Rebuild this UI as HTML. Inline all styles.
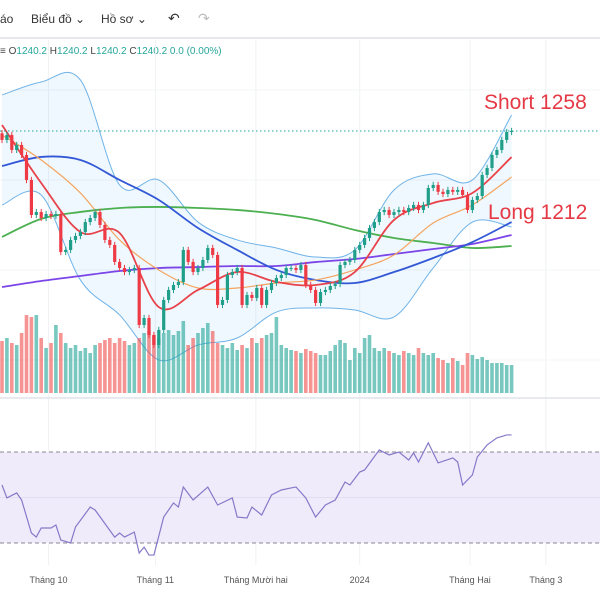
<!DOCTYPE html>
<html><head><meta charset="utf-8">
<style>
html,body{margin:0;padding:0;background:#fff;}
#wrap{position:relative;width:600px;height:600px;overflow:hidden;font-family:"Liberation Sans",sans-serif;}
.tb{position:absolute;top:12px;font-size:12px;color:#333;}
</style></head>
<body>
<div id="wrap">
<div class="tb" style="left:0">áo</div>
<div class="tb" style="left:31px">Biểu đồ ⌄</div>
<div class="tb" style="left:101px">Hồ sơ ⌄</div>
<div class="tb" style="left:168px;font-size:14px;top:10px">↶</div>
<div class="tb" style="left:198px;font-size:14px;top:10px;color:#bbb">↷</div>
<div style="position:absolute;left:0;top:37px;width:600px;height:2px;background:#e6e8ee"></div>
<div style="position:absolute;left:0;top:46px;font-size:10px;color:#26a69a;white-space:nowrap"><span style="color:#444">≡ O</span>1240.2 <span style="color:#444">H</span>1240.2 <span style="color:#444">L</span>1240.2 <span style="color:#444">C</span>1240.2 0.0 (0.00%)</div>
<svg id="svg" width="600" height="600" style="position:absolute;left:0;top:0"></svg>
</div>
<script>
const closes=[1231.6,1236.4,1222,1226.8,1217.2,1193.2,1159.6,1162.4,1156.7,1160.5,1158.6,1160.5,1124,1126,1135.6,1139.4,1143.2,1152.8,1156.7,1162.4,1150,1135.6,1130.8,1114.5,1108.7,1104.8,1106.8,1108.7,1054,1060.7,1044.4,1034.8,1049.2,1078,1087.6,1092.4,1095.2,1126,1114.5,1104.8,1108.7,1116.4,1127.9,1121.2,1073.2,1078,1102,1104.8,1108.7,1073.2,1082.8,1079.9,1089.5,1073.2,1087.6,1094.3,1099.1,1102,1108.7,1108.7,1106.8,1111.6,1092.4,1087.6,1075.1,1085.6,1087.6,1091.4,1093.3,1111.6,1114.5,1116.4,1126,1130.8,1137.5,1147.1,1152.8,1162.4,1164.4,1159.6,1162.4,1164.4,1162.4,1166.3,1169.2,1164.4,1169.2,1185.5,1188.4,1181.8,1179.7,1183.6,1181.8,1183.6,1178.8,1164.4,1174,1177.8,1198,1204.7,1217.2,1222,1231.6,1239.2,1240.2];
const firstOpen=1238;
const volumes=[52,55,50,48,60,78,76,78,55,45,50,68,60,50,45,48,42,45,40,48,50,53,55,50,55,52,48,50,55,60,62,58,55,60,63,58,62,72,48,55,60,65,70,62,50,48,45,50,43,48,45,55,50,55,58,60,76,48,45,43,42,40,44,42,40,38,38,42,48,53,50,33,45,40,55,58,45,42,45,42,40,38,42,40,38,45,40,38,40,35,33,30,35,32,28,40,38,34,36,33,30,30,30,28,28];
const sampleIdx=[0,8,16,24,32,40,48,56,64,72,80,88,96,104];
const sma10=[1246,1190.3,1143.2,1142.3,1071.2,1087.6,1104.8,1095.3,1092.4,1104.8,1154.8,1171.1,1180.7,1215.2];
const sma20=[1236.4,1212.4,1180.7,1135.6,1106.8,1089.5,1089.5,1094.3,1097.2,1106.8,1121.2,1151.9,1169.2,1196.0];
const sma50=[1206.6,1215.3,1212.4,1193.2,1174,1147.1,1126,1106.8,1097.2,1094.3,1104.8,1118.3,1133.6,1152.8];
const sma100=[1090.4,1096.2,1101,1105.8,1108.7,1109.6,1110.6,1110.6,1114.4,1117.3,1122.1,1126.9,1131.7,1140.4];
const sma200=[1138.5,1155.8,1162.5,1166.3,1167.3,1166.3,1164.4,1160.6,1154.8,1145.2,1137.5,1132.7,1127.9,1129.8];
const bbUpper=[1274.8,1287.2,1289.2,1188.4,1193.2,1152.8,1135.6,1127.9,1119.2,1126,1183.6,1199,1193.2,1255.6];
const bbLower=[1169.2,1178.8,1097.2,1063.6,1020.4,1034.8,1041.5,1066.4,1070.3,1068.4,1061.7,1108.7,1152.8,1148];
const rsiIdx=[0,1,3,4,6,7,8,10,11,12,14,15,18,19,23,24,25,27,28,29,30,31,33,35,36,37,39,42,44,47,48,50,51,53,55,57,59,60,62,64,66,68,70,71,73,74,77,79,81,83,84,85,87,89,92,93,94,96,97,99,101,103,104];
const rsiVals=[55.5,49.8,52,48.9,34.4,32.6,36.6,36.6,37.9,31.3,30,37,45.8,44.5,32.6,34.4,32.6,34.8,25.6,28.2,24.7,24.7,41.4,47.6,45.8,54.6,48.9,54.6,46.7,49.8,41.4,41,45.8,42.3,51.1,53.3,54.2,54.6,49.8,41.4,46.7,48.9,56.8,55.5,61.2,62.1,70.9,68.7,70,66.5,69.6,65.6,74,65.2,67.4,65.6,55.5,59.9,67.8,73.1,76.2,77.5,77.5];
const timeLabels=["Tháng 10","Tháng 11","Tháng Mười hai","2024","Tháng Hai","Tháng 3"];
const timeIdx=[9.5,31.3,51.8,73,95.5,111];

const NS="http://www.w3.org/2000/svg";
const svg=document.getElementById('svg');
const X=i=>2+4.9*i;
const Y=p=>131+(1240.2-p)/0.96;
const VY=v=>393-v;
const RY=v=>452+(70-v)*91/40;
function mk(t,a){const e=document.createElementNS(NS,t);for(const k in a)e.setAttribute(k,a[k]);svg.appendChild(e);return e;}
function smooth(pts){let d=`M${pts[0][0]},${pts[0][1]}`;for(let i=0;i<pts.length-1;i++){const p0=pts[Math.max(0,i-1)],p1=pts[i],p2=pts[i+1],p3=pts[Math.min(pts.length-1,i+2)];d+=` C${p1[0]+(p2[0]-p0[0])/6},${p1[1]+(p2[1]-p0[1])/6} ${p2[0]-(p3[0]-p1[0])/6},${p2[1]-(p3[1]-p1[1])/6} ${p2[0]},${p2[1]}`;}return d;}

timeIdx.forEach(t=>{const l=mk('line',{x1:X(t),x2:X(t),y1:40,y2:565,stroke:'#f0f1f4','stroke-width':1});});
[90,180,270,360].forEach(y=>{const l=mk('line',{x1:0,x2:600,y1:y,y2:y,stroke:'#f3f4f6'});});
const sep=mk('line',{x1:0,x2:600,y1:398,y2:398,stroke:'#e0e3eb','stroke-width':1.5});



const up=sampleIdx.map((s,k)=>[X(s),Y(bbUpper[k])]);
const lo=sampleIdx.map((s,k)=>[X(s),Y(bbLower[k])]);
const loRev=lo.slice().reverse();
const fillD=smooth(up)+' L'+smooth(loRev).slice(1)+' Z';
const bbf=mk('path',{d:fillD,fill:'rgba(33,150,243,0.07)',stroke:'none'});


[[bbUpper,'bollinger-upper'],[bbLower,'bollinger-lower']].forEach(([arr,n])=>{const p=mk('path',{d:smooth(sampleIdx.map((s,k)=>[X(s),Y(arr[k])])),fill:'none',stroke:'#6fb3e8','stroke-width':1});});

closes.forEach((c,i)=>{const o=i?closes[i-1]:firstOpen;const r=mk('rect',{x:X(i)-1.8,y:VY(volumes[i]),width:3.6,height:volumes[i],fill:c>=o?'rgba(38,166,154,0.62)':'rgba(239,83,80,0.62)'});});

[[sma200,'#4caf50','sma-200'],[sma100,'#7b45e8','sma-100'],[sma50,'#3358d6','sma-50'],[sma20,'#f4a460','sma-20'],[sma10,'#e8424a','sma-10']].forEach(([arr,col,n])=>{const p=mk('path',{d:smooth(sampleIdx.map((s,k)=>[X(s),Y(arr[k])])),fill:'none',stroke:col,'stroke-width':n==='sma-20'?1.2:1.8});});

closes.forEach((c,i)=>{const o=i?closes[i-1]:firstOpen;const col=c>=o?'#1f9e89':'#ee3a45';const hi=Math.max(o,c)+3,low=Math.min(o,c)-3;
const w=mk('line',{x1:X(i),x2:X(i),y1:Y(hi),y2:Y(low),stroke:col,'stroke-width':1});
const b=mk('rect',{x:X(i)-1.6,y:Y(Math.max(o,c)),width:3.2,height:Math.max(1,Math.abs(Y(o)-Y(c))),fill:col});});

const lp=mk('line',{x1:0,x2:600,y1:Y(closes[closes.length-1]),y2:Y(closes[closes.length-1]),stroke:'#26a69a','stroke-width':1,'stroke-dasharray':'1.5 2.5'});



[['Short 1258',484,109,'short-target-label'],['Long 1212',488,219,'long-target-label']].forEach(([t,x,y,n])=>{const e=mk('text',{x:x,y:y,fill:'#e53945','font-size':21,'font-family':'Liberation Sans, sans-serif'});e.textContent=t;});

const rb=mk('rect',{x:0,y:RY(70),width:600,height:RY(30)-RY(70),fill:'#efebfa'});


const rm=mk('line',{x1:0,x2:600,y1:RY(50),y2:RY(50),stroke:'#e2ddf0'});


[70,30].forEach(v=>{const l=mk('line',{x1:0,x2:600,y1:RY(v),y2:RY(v),stroke:'#8a8a95','stroke-width':1,'stroke-dasharray':'4 3'});});
const rp=mk('path',{d:'M'+rsiIdx.map((s,k)=>`${X(s)},${RY(rsiVals[k])}`).join(' L'),fill:'none',stroke:'#8779c9','stroke-width':1.2});



timeLabels.forEach((t,k)=>{const e=mk('text',{x:X(timeIdx[k]),y:583,'text-anchor':'middle','font-size':9,fill:'#555','font-family':'Liberation Sans, sans-serif'});e.textContent=t;});
</script>
</body></html>
